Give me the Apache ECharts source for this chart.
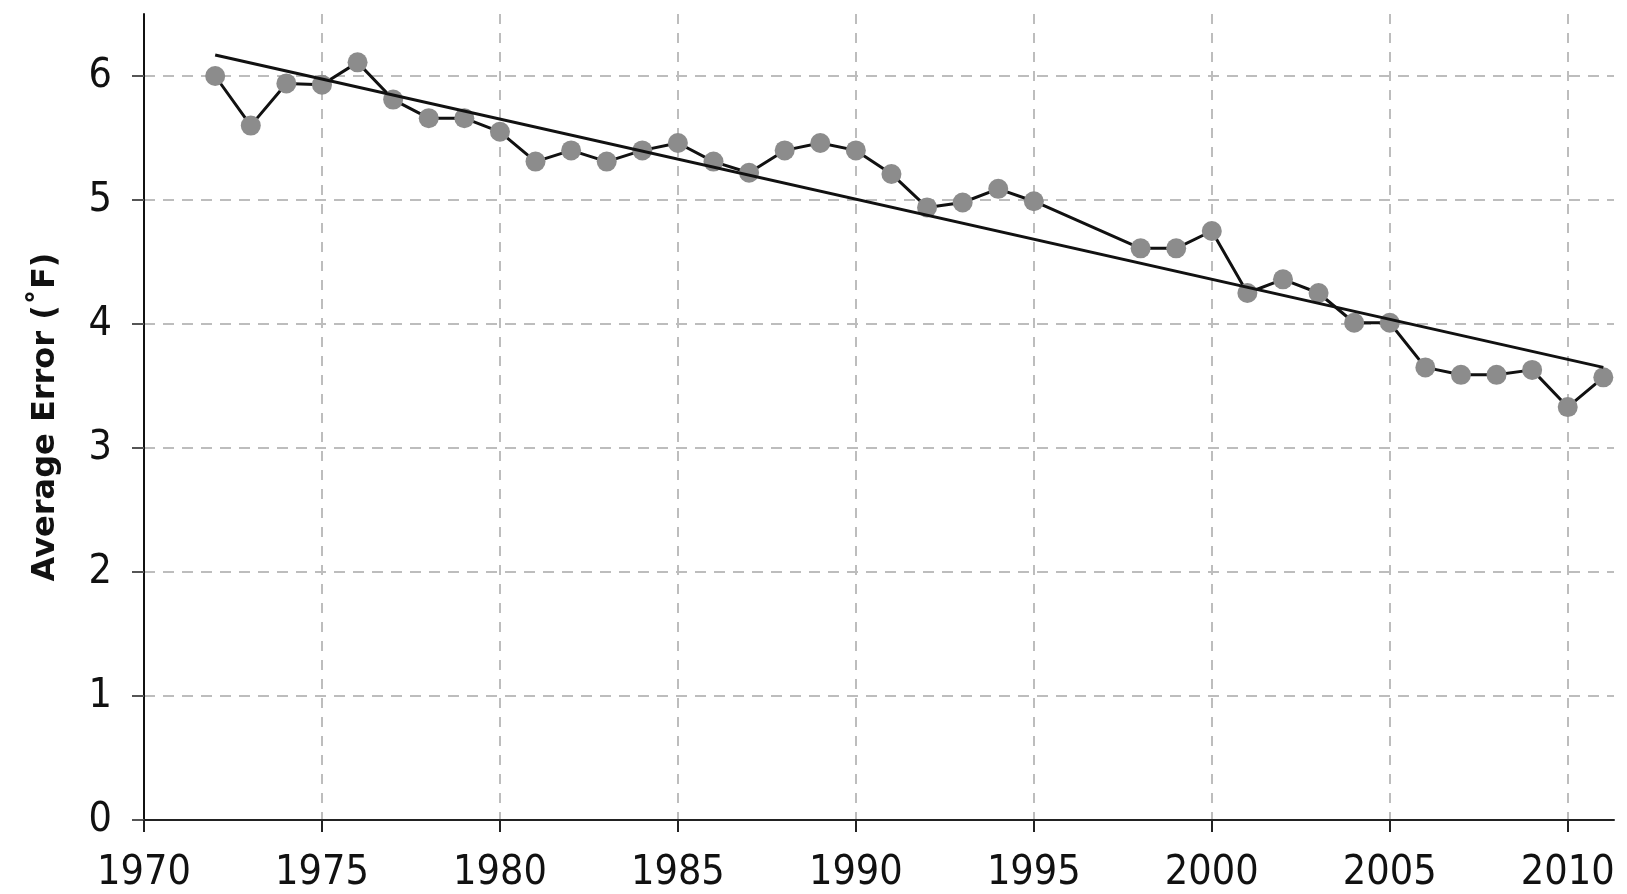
<!DOCTYPE html>
<html>
<head>
<meta charset="utf-8">
<title>Average Error</title>
<script src="https://cdn.jsdelivr.net/npm/echarts@6/dist/echarts.min.js"></script>
<style>
  html, body { margin: 0; padding: 0; background: #fff; }
  #chart { width: 1627px; height: 894px; }
</style>
</head>
<body>
<div id="chart"></div>
<script>
// years with a reading (no points for 1996 and 1997)
const years = [1972, 1973, 1974, 1975, 1976, 1977, 1978, 1979, 1980, 1981,
  1982, 1983, 1984, 1985, 1986, 1987, 1988, 1989, 1990, 1991,
  1992, 1993, 1994, 1995, 1998, 1999, 2000, 2001, 2002, 2003,
  2004, 2005, 2006, 2007, 2008, 2009, 2010, 2011];
const avgError = [6.00, 5.60, 5.94, 5.93, 6.11, 5.81, 5.66, 5.66, 5.55, 5.31,
  5.40, 5.31, 5.40, 5.46, 5.31, 5.22, 5.40, 5.46, 5.40, 5.21,
  4.94, 4.98, 5.09, 4.99, 4.61, 4.61, 4.75, 4.25, 4.36, 4.25,
  4.01, 4.01, 3.65, 3.59, 3.59, 3.63, 3.33, 3.57];
// straight trend line, end points
const trendYears = [1972, 2011];
const trendValues = [6.17, 3.65];
const yTicks = [0, 1, 2, 3, 4, 5, 6];

const labelFont = "'Liberation Sans Narrow', 'DejaVu Sans Condensed', sans-serif";

const chart = echarts.init(document.getElementById('chart'), null, { renderer: 'canvas' });

chart.setOption({
  animation: false,
  backgroundColor: '#fff',
  grid: { left: 144, right: 13, top: 14, bottom: 71 },
  xAxis: {
    type: 'value',
    min: 1970,
    max: 2011.3,
    interval: 5,
    axisLine: { lineStyle: { color: '#222', width: 2 } },
    axisTick: { show: true, length: 12, lineStyle: { color: '#222', width: 2 } },
    axisLabel: {
      color: '#111', fontSize: 41, fontFamily: labelFont, margin: 33,
      showMaxLabel: false,
      formatter: v => String(v)
    },
    splitLine: {
      show: true, showMinLine: false, showMaxLine: false,
      lineStyle: { color: '#bdbdbd', width: 2, type: [10, 9] }
    }
  },
  yAxis: {
    type: 'value',
    min: yTicks[0],
    max: 6.5,
    interval: 1,
    name: 'Average Error (˚F)',
    nameLocation: 'middle',
    nameGap: 82,
    nameTextStyle: {
      color: '#111', fontSize: 32, fontWeight: 'bold',
      fontFamily: "'DejaVu Sans', sans-serif"
    },
    axisLine: { show: true, lineStyle: { color: '#111', width: 2 } },
    axisTick: { show: true, length: 12, lineStyle: { color: '#555', width: 2 } },
    axisLabel: {
      color: '#111', fontSize: 41, fontFamily: labelFont, margin: 32,
      showMaxLabel: false
    },
    splitLine: {
      show: true, showMinLine: false, showMaxLine: false,
      lineStyle: { color: '#bdbdbd', width: 2, type: [11, 8] }
    }
  },
  series: [
    {
      name: 'Average error',
      type: 'line',
      data: years.map((y, i) => [y, avgError[i]]),
      symbol: 'circle',
      symbolSize: 20,
      lineStyle: { color: '#111', width: 3 },
      itemStyle: { color: '#8c8c8c', borderWidth: 0 },
      z: 2
    },
    {
      name: 'Trend',
      type: 'line',
      data: trendYears.map((y, i) => [y, trendValues[i]]),
      symbol: 'none',
      lineStyle: { color: '#111', width: 3 },
      z: 3
    }
  ]
});
</script>
</body>
</html>
